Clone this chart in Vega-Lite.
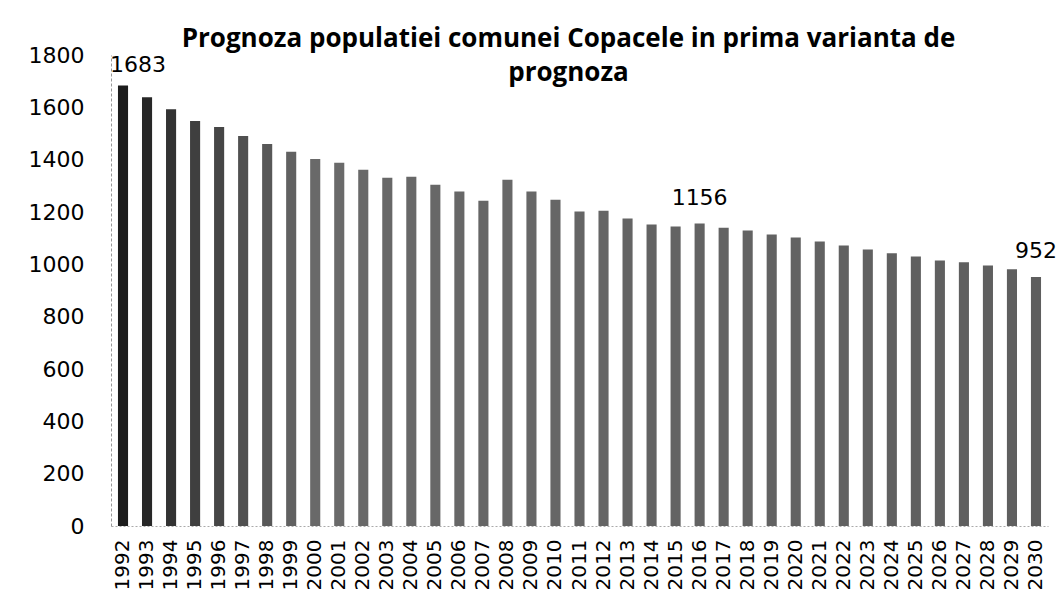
{
  "$schema": "https://vega.github.io/schema/vega-lite/v6.json",
  "width": 937,
  "height": 471,
  "autosize": {"type": "none"},
  "padding": {"left": 111, "top": 55, "right": 9, "bottom": 67},
  "background": "white",
  "config": {
    "view": {"stroke": null},
    "font": "DejaVu Sans"
  },
  "title": {
    "text": ["Prognoza populatiei comunei Copacele in prima varianta de", "prognoza"],
    "font": "Open Sans",
    "fontWeight": "bold",
    "fontSize": 26,
    "lineHeight": 34,
    "color": "#000000",
    "anchor": "middle",
    "dx": -11,
    "offset": -42
  },
  "data": {
    "values": [
      {"year": "1992", "pop": 1683, "label": "1683"},
      {"year": "1993", "pop": 1639},
      {"year": "1994", "pop": 1593},
      {"year": "1995", "pop": 1548},
      {"year": "1996", "pop": 1525},
      {"year": "1997", "pop": 1490},
      {"year": "1998", "pop": 1460},
      {"year": "1999", "pop": 1430},
      {"year": "2000", "pop": 1403},
      {"year": "2001", "pop": 1388},
      {"year": "2002", "pop": 1361},
      {"year": "2003", "pop": 1331},
      {"year": "2004", "pop": 1335},
      {"year": "2005", "pop": 1304},
      {"year": "2006", "pop": 1278},
      {"year": "2007", "pop": 1243},
      {"year": "2008", "pop": 1323},
      {"year": "2009", "pop": 1278},
      {"year": "2010", "pop": 1247},
      {"year": "2011", "pop": 1202},
      {"year": "2012", "pop": 1205},
      {"year": "2013", "pop": 1175},
      {"year": "2014", "pop": 1152},
      {"year": "2015", "pop": 1145},
      {"year": "2016", "pop": 1156, "label": "1156"},
      {"year": "2017", "pop": 1140},
      {"year": "2018", "pop": 1129},
      {"year": "2019", "pop": 1114},
      {"year": "2020", "pop": 1103},
      {"year": "2021", "pop": 1087},
      {"year": "2022", "pop": 1072},
      {"year": "2023", "pop": 1057},
      {"year": "2024", "pop": 1042},
      {"year": "2025", "pop": 1030},
      {"year": "2026", "pop": 1015},
      {"year": "2027", "pop": 1008},
      {"year": "2028", "pop": 996},
      {"year": "2029", "pop": 981},
      {"year": "2030", "pop": 952, "label": "952"}
    ]
  },
  "encoding": {
    "x": {
      "field": "year",
      "type": "ordinal",
      "scale": {"paddingInner": 0.58, "paddingOuter": 0.29},
      "axis": {
        "title": null,
        "labelAngle": -90,
        "labelFont": "DejaVu Sans",
        "labelFontSize": 20,
        "labelColor": "#000000",
        "labelPadding": 13,
        "labelOverlap": false,
        "ticks": false,
        "domainColor": "#aaaaaa",
        "domainDash": [2, 2],
        "domainWidth": 1
      }
    },
    "y": {
      "field": "pop",
      "type": "quantitative",
      "scale": {"domain": [0, 1800], "nice": false},
      "axis": {
        "title": null,
        "format": "d",
        "values": [0, 200, 400, 600, 800, 1000, 1200, 1400, 1600, 1800],
        "labelFont": "DejaVu Sans",
        "labelFontSize": 22,
        "labelColor": "#000000",
        "labelPadding": 27,
        "ticks": false,
        "grid": false,
        "domainColor": "#999999",
        "domainDash": [3, 2],
        "domainWidth": 1
      }
    }
  },
  "layer": [
    {
      "mark": {"type": "bar"},
      "encoding": {
        "color": {
          "field": "pop",
          "type": "quantitative",
          "scale": {"domain": [952, 1400, 1683], "range": ["#5e5e5e", "#6a6a6a", "#1c1c1c"]},
          "legend": null
        }
      }
    },
    {
      "transform": [{"filter": "datum.label && datum.year != '1992'"}],
      "mark": {"type": "text", "baseline": "bottom", "align": "center", "dy": -14, "font": "DejaVu Sans", "fontSize": 22, "color": "#000000"},
      "encoding": {"text": {"field": "label"}}
    },
    {
      "transform": [{"filter": "datum.year == '1992'"}],
      "mark": {"type": "text", "baseline": "bottom", "align": "left", "dx": -13, "dy": -9, "font": "DejaVu Sans", "fontSize": 22, "color": "#000000"},
      "encoding": {"text": {"field": "label"}}
    }
  ]
}
